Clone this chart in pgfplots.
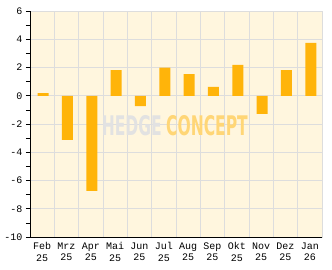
\documentclass[border=0pt]{standalone}
\usepackage{pgfplots}
\pgfplotsset{compat=1.18}
\usepackage{fontspec}
\setmainfont{Liberation Mono}
\newfontfamily\wmfont{DejaVu Sans Condensed}[BoldFont={DejaVu Sans Condensed Bold}]
\definecolor{bg}{HTML}{FFF6DE}
\definecolor{bar}{HTML}{FFB40A}
\definecolor{gridc}{HTML}{DDDDDD}
\definecolor{wmgray}{HTML}{E2E2E2}
\definecolor{wmorange}{HTML}{FFD676}
\begin{document}
\begin{tikzpicture}[x=1pt,y=1pt]
\useasboundingbox (-30,-32) rectangle (302,237);
\begin{axis}[
  at={(0,0)}, anchor=south west,
  scale only axis, width=292pt, height=226pt,
  xmin=-0.5, xmax=11.5, ymin=-10, ymax=6,
  axis background/.style={fill=bg},
  axis line style={gridc},
  xtick={0,...,11},
  xticklabels={{Feb\\25},{Mrz\\25},{Apr\\25},{Mai\\25},{Jun\\25},{Jul\\25},{Aug\\25},{Sep\\25},{Okt\\25},{Nov\\25},{Dez\\25},{Jan\\26}},
  xticklabel style={align=center, font=\fontsize{10}{11.5}\selectfont, yshift=-2pt},
  minor xtick={-0.5,0.5,...,11.5},
  xminorgrids=true, xmajorgrids=false,
  ytick={-10,-8,...,6},
  minor ytick={-9,-7,...,5},
  ymajorgrids=true, yminorgrids=false,
  grid style={gridc, line width=0.8pt},
  minor grid style={gridc, line width=0.8pt},
  yticklabel style={font=\fontsize{10}{11}\selectfont},
  /pgf/number format/assume math mode=true,
  tick style={black, line width=0.6pt},
  x tick style={draw=none},
  minor x tick style={black, line width=0.6pt},
  xtick align=inside, ytick align=outside,
  major tick length=4pt, minor tick length=4pt,
  tick pos=left,
  clip=false,
]
\node[font=\wmfont\bfseries\fontsize{27}{27}\selectfont, xscale=0.64, inner sep=0] at (axis cs:5.45,-2.1) {\textcolor{wmgray}{HEDGE}\hspace{7pt}\textcolor{wmorange}{CONCEPT}};
\addplot[ybar, bar width=0.45, fill=bar, draw=none, bar shift=0.04] coordinates {
  (0,0.19) (1,-3.12) (2,-6.74) (3,1.82) (4,-0.73) (5,1.99)
  (6,1.54) (7,0.62) (8,2.18) (9,-1.28) (10,1.82) (11,3.74)
};
\draw[black, line width=0.8pt] (axis cs:-0.5,6) -- (axis cs:-0.5,-10) -- (axis cs:11.5,-10);
\end{axis}
\end{tikzpicture}
\end{document}
